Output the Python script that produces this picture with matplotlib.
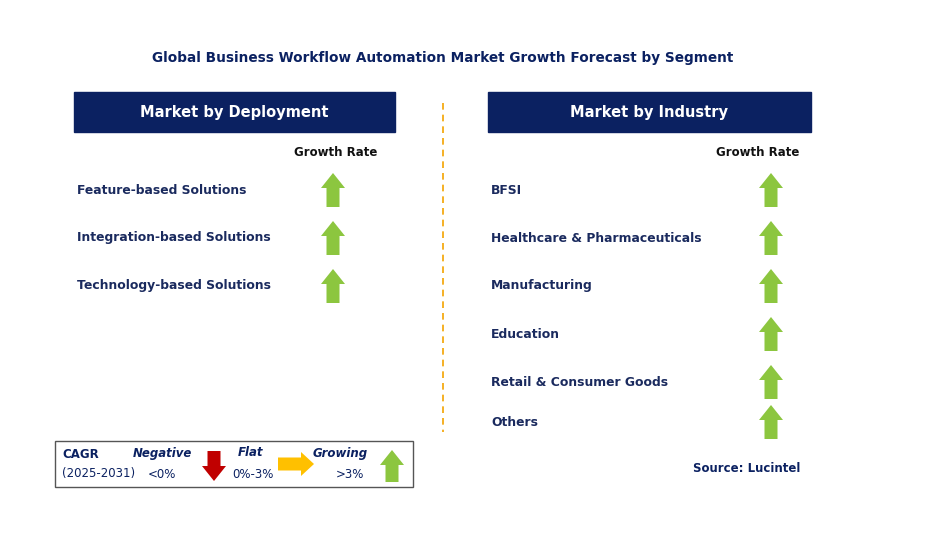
import matplotlib.pyplot as plt
from matplotlib.patches import Rectangle, FancyArrow

title = "Global Business Workflow Automation Market Growth Forecast by Segment"
deployment = ["Feature-based Solutions", "Integration-based Solutions", "Technology-based Solutions"]
deployment_trend = ["up", "up", "up"]
industry = ["BFSI", "Healthcare & Pharmaceuticals", "Manufacturing", "Education",
            "Retail & Consumer Goods", "Others"]
industry_trend = ["up", "up", "up", "up", "up", "up"]

NAVY = "#0b2161"
TXT = "#1a2a5e"
GREEN = "#8cc63f"
RED = "#c00000"
YELLOW = "#ffc000"

fig = plt.figure(figsize=(9.39, 5.53), dpi=100)
ax = fig.add_axes([0, 0, 1, 1])
ax.set_xlim(0, 939)
ax.set_ylim(553, 0)
ax.axis("off")


def arrow(x, y0, y1, color, horiz=False):
    if horiz:
        ax.add_patch(FancyArrow(y0, x, y1 - y0, 0, width=13, head_width=24,
                                head_length=13, length_includes_head=True,
                                color=color, lw=0))
    else:
        ax.add_patch(FancyArrow(x, y0, 0, y1 - y0, width=13, head_width=24,
                                head_length=15, length_includes_head=True,
                                color=color, lw=0))


ax.text(443, 58, title, ha="center", va="center", fontsize=9.8, fontweight="bold", color=NAVY)

# headers
for x0, w, label in [(74, 321, "Market by Deployment"), (488, 323, "Market by Industry")]:
    ax.add_patch(Rectangle((x0, 92), w, 40, color=NAVY))
    ax.text(x0 + w / 2, 112, label, ha="center", va="center", fontsize=10.5,
            fontweight="bold", color="white")

ax.plot([443, 443], [103, 432], ls=(0, (4, 3)), color="#f4a300", lw=1.2)

ax.text(336, 152, "Growth Rate", ha="center", va="center", fontsize=8.5, fontweight="bold", color="#111")
ax.text(758, 152, "Growth Rate", ha="center", va="center", fontsize=8.5, fontweight="bold", color="#111")

for i, (name, t) in enumerate(zip(deployment, deployment_trend)):
    y = 190 + i * 48
    ax.text(77, y, name, ha="left", va="center", fontsize=8.9, fontweight="bold", color=TXT)
    arrow(333, y + 17, y - 17, GREEN)

for i, (name, t) in enumerate(zip(industry, industry_trend)):
    y = [190, 238, 286, 334, 382, 422][i]
    ax.text(491, y, name, ha="left", va="center", fontsize=8.9, fontweight="bold", color=TXT)
    arrow(771, y + 17, y - 17, GREEN)

# legend box
ax.add_patch(Rectangle((55, 441), 358, 46, fill=False, ec="#555", lw=1))
ax.text(62, 455, "CAGR", fontsize=8.5, fontweight="bold", color=NAVY, va="center")
ax.text(62, 474, "(2025-2031)", fontsize=8.5, color=NAVY, va="center")
ax.text(162, 453, "Negative", fontsize=8.5, fontweight="bold", style="italic", color=NAVY, ha="center", va="center")
ax.text(162, 475, "<0%", fontsize=8.5, color=NAVY, ha="center", va="center")
arrow(214, 451, 481, RED)
ax.text(251, 453, "Flat", fontsize=8.5, fontweight="bold", style="italic", color=NAVY, ha="center", va="center")
ax.text(253, 475, "0%-3%", fontsize=8.5, color=NAVY, ha="center", va="center")
arrow(464, 278, 314, YELLOW, horiz=True)
ax.text(340, 453, "Growing", fontsize=8.5, fontweight="bold", style="italic", color=NAVY, ha="center", va="center")
ax.text(350, 474, ">3%", fontsize=8.5, color=NAVY, ha="center", va="center")
arrow(392, 482, 450, GREEN)

ax.text(747, 469, "Source: Lucintel", ha="center", va="center", fontsize=8.5, fontweight="bold", color=NAVY)

fig.savefig("out.png", dpi=100)
